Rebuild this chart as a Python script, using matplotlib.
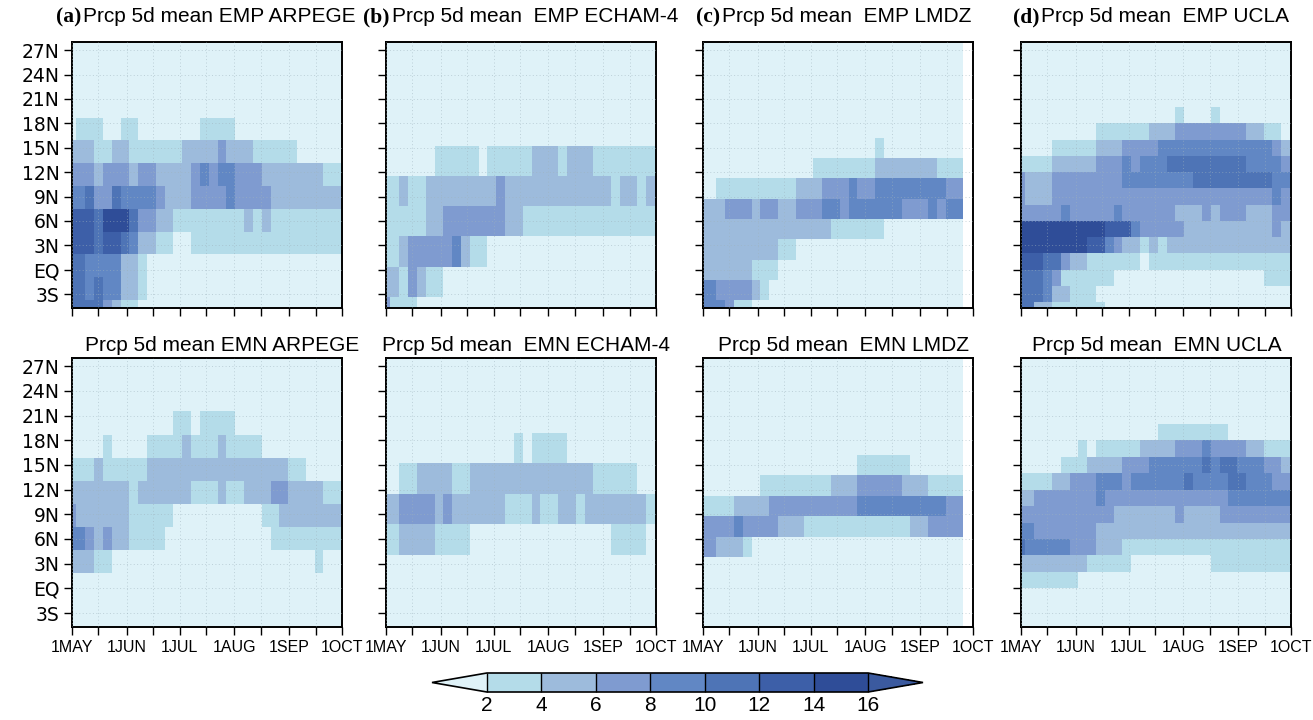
import numpy as np
import matplotlib
import matplotlib.pyplot as plt
from matplotlib.colors import BoundaryNorm, ListedColormap

matplotlib.use("Agg")

# 5-day mean precipitation, coded by class: digit k = k-th colour class
# (0: <2, 1: 2-4, ... 7: 14-16, 8: >16 mm/day), "." = no data.
# one digit per pentad (1 May .. 1 Oct), rows run north -> south
LEVELS = [2, 4, 6, 8, 10, 12, 14, 16]
CLASS_MM = [1, 3, 5, 7, 9, 11, 13, 15, 17]
COLORS = ["#dff2f8", "#b4dce9", "#9dbbdc", "#7f9bd0", "#6187c4",
          "#4e74b6", "#3d5fa8", "#2f4d98", "#3b5a9f"]

PENTADS = list(range(0, 151, 5))  # centre day of each pentad, days after 1 May
SEASON_END = 153                  # 1 Oct
TICK_DAYS = [0, 15, 31, 46, 61, 76, 92, 107, 123, 138, 153]
TICK_NAMES = ["1MAY", "", "1JUN", "", "1JUL", "", "1AUG", "", "1SEP", "", "1OCT"]
LAT_TICKS = [-3, 0, 3, 6, 9, 12, 15, 18, 21, 24, 27]
LAT_NAMES = ["3S", "EQ", "3N", "6N", "9N", "12N", "15N", "18N", "21N", "24N", "27N"]

# latitude cell edges of each model grid (north -> south)
LAT_ARPEGE = [29.9, 27.1, 24.3, 21.5, 18.7, 15.9, 13.1, 10.3, 7.5, 4.7, 1.9, -0.9, -3.7, -6.5]
LAT_ECHAM4 = [30.0, 26.3, 22.6, 18.9, 15.2, 11.5, 7.8, 4.1, 0.4, -3.3, -7.0]
LAT_LMDZ = [28.75, 26.25, 23.75, 21.25, 18.75, 16.25, 13.75, 11.25, 8.75, 6.25, 3.75,
            1.25, -1.25, -3.75, -6.25]
LAT_UCLA = [30, 28, 26, 24, 22, 20, 18, 16, 14, 12, 10, 8, 6, 4, 2, 0, -2, -4, -6]

EMP_ARPEGE = [
    "00000 00000 00000 00000 00000 00000 0",
    "00000 00000 00000 00000 00000 00000 0",
    "00000 00000 00000 00000 00000 00000 0",
    "00000 00000 00000 00000 00000 00000 0",
    "01110 01100 00000 11110 00000 00000 0",
    "22211 22111 11122 22322 21111 10000 0",
    "33323 33233 22223 43443 33222 22221 1",
    "44533 54444 32223 33343 33322 22222 2",
    "66657 77533 22111 11111 21211 11111 1",
    "66656 65422 11001 11111 11111 11111 1",
    "55444 42210 00000 00000 00000 00000 0",
    "55454 42210 00000 00000 00000 00000 0",
    "55553 21100 00000 00000 00000 00000 0",
]
EMP_ECHAM4 = [
    "00000 00000 00000 00000 00000 00000 0",
    "00000 00000 00000 00000 00000 00000 0",
    "00000 00000 00000 00000 00000 00000 0",
    "00000 00000 00000 00000 00000 00000 0",
    "00000 01111 10111 11222 12221 11111 1",
    "11211 22222 22232 22222 22222 21221 2",
    "11111 22333 33332 21111 11111 11111 1",
    "11233 33342 11000 00000 00000 00000 0",
    "22132 11000 00000 00000 00000 00000 0",
    "31110 00000 00000 00000 00000 00000 0",
]
EMP_LMDZ = [
    "00000 00000 00000 00000 00000 00000 .",
    "00000 00000 00000 00000 00000 00000 .",
    "00000 00000 00000 00000 00000 00000 .",
    "00000 00000 00000 00000 00000 00000 .",
    "00000 00000 00000 00000 00000 00000 .",
    "00000 00000 00000 00000 10000 00000 .",
    "00000 00000 00011 11111 22222 22111 .",
    "00111 11111 12223 33433 44444 44433 .",
    "22233 32332 23334 43444 44433 34344 .",
    "22222 22222 22222 11111 10000 00000 .",
    "22222 22221 10000 00000 00000 00000 .",
    "22222 21110 00000 00000 00000 00000 .",
    "44333 32100 00000 00000 00000 00000 .",
    "44431 10000 00000 00000 00000 00000 .",
]
EMP_UCLA = [
    "00000 00000 00000 00000 00000 00000 0",
    "00000 00000 00000 00000 00000 00000 0",
    "00000 00000 00000 00000 00000 00000 0",
    "00000 00000 00000 00000 00000 00000 0",
    "00000 00000 00000 00000 00000 00000 0",
    "00000 00000 00000 00010 00100 00000 0",
    "00000 00001 11111 22233 33333 32211 0",
    "00001 11112 22333 34444 44444 44443 2",
    "11112 22223 33434 44555 55555 54444 3",
    "32223 33333 33444 44444 55555 55554 4",
    "32223 33333 33333 33333 33333 33334 3",
    "33333 43333 34333 33322 23233 32223 3",
    "77777 77777 66643 33332 22222 22223 2",
    "77777 77766 43221 21222 22222 22222 2",
    "66655 32211 11110 11111 11111 11111 1",
    "55543 11111 10000 00000 00000 00011 1",
    "55542 21110 00000 00000 00000 00000 0",
    "55221 11111 00000 00000 00000 00000 0",
]

EMN_ARPEGE = [
    "00000 00000 00000 00000 00000 00000 0",
    "00000 00000 00000 00000 00000 00000 0",
    "00000 00000 00000 00000 00000 00000 0",
    "00000 00000 00110 11110 00000 00000 0",
    "00001 00001 11121 11211 11000 00000 0",
    "11121 11112 22222 22222 22222 11000 0",
    "22222 22122 22221 11211 22233 22221 1",
    "32222 22111 11000 00000 00112 22222 2",
    "44323 22111 10000 00000 00011 11111 1",
    "22211 00000 00000 00000 00000 00010 0",
    "00000 00000 00000 00000 00000 00000 0",
    "00000 00000 00000 00000 00000 00000 0",
    "00000 00000 00000 00000 00000 00000 0",
]
EMN_ECHAM4 = [
    "00000 00000 00000 00000 00000 00000 0",
    "00000 00000 00000 00000 00000 00000 0",
    "00000 00000 00000 00000 00000 00000 0",
    "00000 00000 00000 10111 10000 00000 0",
    "00112 22211 22222 22222 22221 11110 0",
    "22333 32322 22221 11211 22122 22222 1",
    "11222 21111 00000 00000 00000 01111 0",
    "00000 00000 00000 00000 00000 00000 0",
    "00000 00000 00000 00000 00000 00000 0",
    "00000 00000 00000 00000 00000 00000 0",
]
EMN_LMDZ = [
    "00000 00000 00000 00000 00000 00000 .",
    "00000 00000 00000 00000 00000 00000 .",
    "00000 00000 00000 00000 00000 00000 .",
    "00000 00000 00000 00000 00000 00000 .",
    "00000 00000 00000 00000 00000 00000 .",
    "00000 00000 00000 00011 11110 00000 .",
    "00000 00111 11111 22233 33322 21111 .",
    "11112 22233 33333 33344 44444 44433 .",
    "33334 33332 22111 11111 11112 23333 .",
    "33222 10000 00000 00000 00000 00000 .",
    "00000 00000 00000 00000 00000 00000 .",
    "00000 00000 00000 00000 00000 00000 .",
    "00000 00000 00000 00000 00000 00000 .",
    "00000 00000 00000 00000 00000 00000 .",
]
EMN_UCLA = [
    "00000 00000 00000 00000 00000 00000 0",
    "00000 00000 00000 00000 00000 00000 0",
    "00000 00000 00000 00000 00000 00000 0",
    "00000 00000 00000 00000 00000 00000 0",
    "00000 00000 00000 00000 00000 00000 0",
    "00000 00000 00000 01111 11110 00000 0",
    "00000 00101 11112 22233 34333 32211 1",
    "00000 11122 22333 44444 45455 44433 2",
    "11112 23334 44344 44445 44445 54443 3",
    "22333 33334 33333 33333 33334 44444 4",
    "33333 33333 32222 22232 22233 33333 3",
    "44333 33332 22222 22222 22222 22222 2",
    "54444 43332 22111 11111 11111 11111 1",
    "22222 22211 11100 00000 00111 11111 1",
    "11111 11000 00000 00000 00000 00000 0",
    "00000 00000 00000 00000 00000 00000 0",
    "00000 00000 00000 00000 00000 00000 0",
    "00000 00000 00000 00000 00000 00000 0",
]

TOP = [
    (EMP_ARPEGE, LAT_ARPEGE, "(a)", "Prcp 5d mean EMP ARPEGE"),
    (EMP_ECHAM4, LAT_ECHAM4, "(b)", "Prcp 5d mean  EMP ECHAM-4"),
    (EMP_LMDZ, LAT_LMDZ, "(c)", "Prcp 5d mean  EMP LMDZ"),
    (EMP_UCLA, LAT_UCLA, "(d)", "Prcp 5d mean  EMP UCLA"),
]
BOTTOM = [
    (EMN_ARPEGE, LAT_ARPEGE, "", "Prcp 5d mean EMN ARPEGE"),
    (EMN_ECHAM4, LAT_ECHAM4, "", "Prcp 5d mean  EMN ECHAM-4"),
    (EMN_LMDZ, LAT_LMDZ, "", "Prcp 5d mean  EMN LMDZ"),
    (EMN_UCLA, LAT_UCLA, "", "Prcp 5d mean  EMN UCLA"),
]

# layout in pixels of the 1313x720 canvas
W, H = 1313, 720
COL_LEFT = [72, 386, 703, 1021]
COL_W = 270
ROW_TOP = [42, 358]
ROW_H = [266, 269]
TITLE_X = [[83, 392, 722, 1041], [85, 382, 718, 1032]]
TITLE_Y = [17, 345]

SANS = ["Liberation Sans", "DejaVu Sans"]


def decode(rows):
    grid = np.full((len(rows), len(PENTADS)), np.nan)
    for i, row in enumerate(rows):
        for j, ch in enumerate(row.replace(" ", "")):
            if ch != ".":
                grid[i, j] = CLASS_MM[int(ch)]
    return np.ma.masked_invalid(grid)


def main():
    cmap = ListedColormap(COLORS)
    norm = BoundaryNorm(LEVELS, ncolors=len(COLORS), extend="both")
    day_edges = np.r_[0, np.array(PENTADS[1:]) - 2.5, SEASON_END]

    fig = plt.figure(figsize=(W / 100, H / 100), dpi=100)
    mesh = None
    for r, panels in enumerate([TOP, BOTTOM]):
        for c, (rows, lat_edges, tag, title) in enumerate(panels):
            ax = fig.add_axes([COL_LEFT[c] / W, 1 - (ROW_TOP[r] + ROW_H[r]) / H,
                               COL_W / W, ROW_H[r] / H])
            mesh = ax.pcolormesh(day_edges, lat_edges, decode(rows), cmap=cmap, norm=norm,
                                 shading="flat")
            ax.set_xlim(0, SEASON_END)
            ax.set_ylim(-4.7, 28)
            ax.set_xticks(TICK_DAYS)
            ax.set_yticks(LAT_TICKS)
            ax.set_xticklabels(TICK_NAMES if r == 1 else [""] * len(TICK_DAYS),
                               family=SANS, fontsize=11.5)
            ax.set_yticklabels(LAT_NAMES if c == 0 else [""] * len(LAT_TICKS),
                               family="DejaVu Sans", fontsize=13.5)
            ax.tick_params(direction="out", length=6, width=1, pad=3)
            ax.grid(True, color="#9fb3bd", linestyle=(0, (1, 2.5)), linewidth=0.7, alpha=0.55)
            ax.set_axisbelow(False)
            for s in ax.spines.values():
                s.set_linewidth(1.4)

            ty = 1 - TITLE_Y[r] / H
            if tag:
                fig.text((TITLE_X[r][c] - 2) / W, ty, tag, family="Liberation Serif",
                         weight="bold", fontsize=15.5, va="center", ha="right")
            fig.text(TITLE_X[r][c] / W, ty, title, family=SANS,
                     fontsize=15, va="center", ha="left")

    cax = fig.add_axes([432 / W, 1 - 692 / H, 491 / W, 19 / H])
    cb = fig.colorbar(mesh, cax=cax, orientation="horizontal", extend="both",
                      extendfrac=0.144, drawedges=True, ticks=LEVELS)
    cb.outline.set_linewidth(1.2)
    cb.dividers.set_linewidth(1.0)
    cb.ax.tick_params(length=0, labelsize=15, pad=3)
    for t in cb.ax.get_xticklabels():
        t.set_family(SANS)

    plt.savefig("out.png", dpi=100)
    plt.close()


if __name__ == "__main__":
    main()
